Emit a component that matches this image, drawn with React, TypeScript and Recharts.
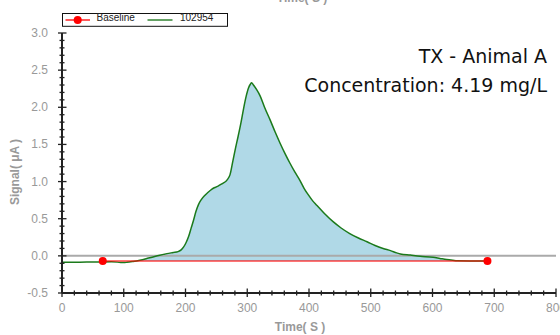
import React from 'react';
import { ComposedChart, Area, Line, XAxis, YAxis, ReferenceLine, Legend, Label } from 'recharts';

// ---- data ----
const times = [0, 20, 40, 60, 80, 95, 100, 105, 115, 126, 140, 153, 170, 180, 188, 193, 197, 201, 205, 209, 213, 217, 221, 225, 232, 240, 245, 252, 261, 265, 268, 272, 277, 281, 285, 290, 294, 298, 302, 305, 307, 310, 315, 321, 328, 337, 345, 353, 361, 369, 377, 385, 392, 399, 406, 412, 425, 439, 452, 466, 480, 494, 507, 520, 532, 542, 548, 564, 580, 601, 612, 623, 633, 640, 660, 690];
const signal = [-0.085, -0.085, -0.084, -0.083, -0.08, -0.088, -0.09, -0.087, -0.075, -0.058, -0.03, -0.003, 0.03, 0.045, 0.057, 0.08, 0.12, 0.18, 0.26, 0.37, 0.48, 0.6, 0.69, 0.75, 0.82, 0.88, 0.91, 0.935, 0.98, 1.0, 1.03, 1.09, 1.29, 1.45, 1.6, 1.8, 1.98, 2.14, 2.26, 2.31, 2.33, 2.3, 2.24, 2.15, 2.0, 1.83, 1.67, 1.52, 1.38, 1.25, 1.13, 1.02, 0.91, 0.82, 0.74, 0.685, 0.57, 0.46, 0.375, 0.3, 0.24, 0.19, 0.14, 0.1, 0.07, 0.04, 0.025, 0.01, -0.005, -0.02, -0.035, -0.05, -0.06, -0.066, -0.068, -0.068];
const baselineTimes = [66, 689];
const baselineValues = [-0.068, -0.068];
const seriesNames = ['Baseline', '102954'];
const xMajorTicks = [0, 100, 200, 300, 400, 500, 600, 700, 800];
const yMajorTicks = [-0.5, 0.0, 0.5, 1.0, 1.5, 2.0, 2.5, 3.0];
const annotationLines = ['TX - Animal A', 'Concentration: 4.19 mg/L'];
const xTitle = 'Time( S )';
const yTitle = 'Signal( μA )';

const signalData = times.map((t, i) => ({ t, v: signal[i] }));
const baselineData = baselineTimes.map((t, i) => ({ t, b: baselineValues[i] }));
const BASE = baselineValues[0];

// minor ticks (every 20 s, every 0.1 µA)
const xTicks: number[] = [];
for (let i = 0; i <= 40; i++) xTicks.push(i * 20);
const yTicks: number[] = [];
for (let i = -5; i <= 30; i++) yTicks.push(Math.round(i) / 10);

const isMajorX = (v: number) => xMajorTicks.some((m) => Math.abs(m - v) < 1e-6);
const isMajorY = (v: number) => yMajorTicks.some((m) => Math.abs(m - v) < 1e-6);

const AXIS = '#222';
const LABEL = '#999';
const FONT = '"Liberation Sans", Arial, sans-serif';

const BottomTick = (props: any) => {
  const { x, y, payload } = props;
  const major = isMajorX(payload.value);
  return (
    <g>
      <line x1={x} x2={x} y1={y - (major ? 4.5 : 2.5)} y2={y + (major ? 4 : 2.5)} stroke={AXIS} strokeWidth={1.3} />
      {major && (
        <text x={x} y={y + 19} textAnchor="middle" fill={LABEL} fontSize={12} fontFamily={FONT}>
          {payload.value}
        </text>
      )}
    </g>
  );
};

const TopTick = (props: any) => {
  const { x, y, payload } = props;
  const major = isMajorX(payload.value);
  return <line x1={x} x2={x} y1={y} y2={y + (major ? 4 : 2.5)} stroke={AXIS} strokeWidth={1.3} />;
};

const LeftTick = (props: any) => {
  const { x, y, payload } = props;
  const major = isMajorY(payload.value);
  return (
    <g>
      <line x1={x - (major ? 4 : 2.5)} x2={x + (major ? 4.5 : 2.5)} y1={y} y2={y} stroke={AXIS} strokeWidth={1.3} />
      {major && (
        <text x={x - 14} y={y + 4} textAnchor="end" fill={LABEL} fontSize={12} fontFamily={FONT}>
          {Number(payload.value).toFixed(1)}
        </text>
      )}
    </g>
  );
};

const RightTick = (props: any) => {
  const { x, y, payload } = props;
  const major = isMajorY(payload.value);
  return <line x1={x - (major ? 5 : 2.5)} x2={x} y1={y} y2={y} stroke={AXIS} strokeWidth={1.3} />;
};

const LegendBox = () => (
  <svg width={168} height={15} style={{ display: 'block', overflow: 'visible' }}>
    <rect x={0.5} y={0.5} width={165} height={12.8} fill="#fff" stroke="#111" strokeWidth={1} />
    <line x1={3.5} x2={28} y1={7} y2={7} stroke="#ff0000" strokeWidth={1.3} />
    <circle cx={15.7} cy={7} r={4} fill="#ff0000" />
    <text x={34.5} y={7.8} fontSize={10} fontFamily={FONT} fill="#222">{seriesNames[0]}</text>
    <line x1={85.5} x2={110.5} y1={7} y2={7} stroke="#127012" strokeWidth={1.3} />
    <text x={118} y={7.8} fontSize={10} fontFamily={FONT} fill="#222">{seriesNames[1]}</text>
  </svg>
);

export default function App() {
  return (
    <div style={{ position: 'absolute', left: 0, top: 0, width: 560, height: 335, background: '#fff', overflow: 'hidden' }}>
      <ComposedChart width={560} height={335} margin={{ top: 33, right: 4, bottom: 0, left: 0 }}>
        <XAxis
          dataKey="t"
          type="number"
          domain={[0, 800]}
          ticks={xTicks}
          interval={0}
          tickSize={0}
          tickMargin={0}
          tickLine={false}
          tick={<BottomTick />}
          axisLine={{ stroke: AXIS, strokeWidth: 2 }}
          height={42}
          allowDataOverflow
        >
          <Label
            content={() => (
              <g>
                <text x={300} y={331} textAnchor="middle" fill={LABEL} fontSize={12} fontWeight="bold" fontFamily={FONT}>
                  {xTitle}
                </text>
                <text x={302} y={2.2} textAnchor="middle" fill={LABEL} fontSize={12} fontWeight="bold" fontFamily={FONT}>
                  {xTitle}
                </text>
              </g>
            )}
          />
        </XAxis>
        <XAxis
          xAxisId="top"
          orientation="top"
          dataKey="t"
          type="number"
          domain={[0, 800]}
          ticks={xTicks}
          interval={0}
          tickSize={0}
          tickMargin={0}
          tickLine={false}
          tick={<TopTick />}
          axisLine={{ stroke: AXIS, strokeWidth: 2 }}
          height={0}
          allowDataOverflow
        />
        <YAxis
          type="number"
          domain={[-0.5, 3.0]}
          ticks={yTicks}
          interval={0}
          tickSize={0}
          tickMargin={0}
          tickLine={false}
          tick={<LeftTick />}
          axisLine={{ stroke: AXIS, strokeWidth: 2 }}
          width={62}
          allowDataOverflow
        >
          <Label
            content={() => (
              <text
                x={19}
                y={172}
                transform="rotate(-90 19 172)"
                textAnchor="middle"
                fill={LABEL}
                fontSize={12}
                fontWeight="bold"
                fontFamily={FONT}
              >
                {yTitle}
              </text>
            )}
          />
        </YAxis>
        <YAxis
          yAxisId="right"
          orientation="right"
          type="number"
          domain={[-0.5, 3.0]}
          ticks={yTicks}
          interval={0}
          tickSize={0}
          tickMargin={0}
          tickLine={false}
          tick={<RightTick />}
          axisLine={{ stroke: AXIS, strokeWidth: 2 }}
          width={0}
          allowDataOverflow
        />
        <Area
          data={signalData}
          dataKey={(d: any) => Math.max(d.v, BASE)}
          type="monotone"
          baseValue={BASE}
          stroke="none"
          fill="#b0d9e7"
          fillOpacity={1}
          isAnimationActive={false}
          legendType="none"
        />
        <ReferenceLine y={0} stroke="#aaaaaa" strokeWidth={2} />
        <Line
          data={signalData}
          dataKey="v"
          name={seriesNames[1]}
          type="monotone"
          stroke="#1b7a1b"
          strokeWidth={1.5}
          dot={false}
          isAnimationActive={false}
        />
        <Line
          data={baselineData}
          dataKey="b"
          name={seriesNames[0]}
          type="linear"
          stroke="#ff0000"
          strokeOpacity={0.55}
          strokeWidth={2}
          dot={{ r: 4, fill: '#ff0000', stroke: 'none', strokeOpacity: 0 }}
          isAnimationActive={false}
        />
        <Legend
          layout="horizontal"
          align="center"
          verticalAlign="middle"
          wrapperStyle={{ position: 'absolute', left: 62, top: 13, width: 168, height: 15 }}
          content={() => <LegendBox />}
        />
      </ComposedChart>
      <div
        style={{
          position: 'absolute',
          right: 13,
          top: 42.2,
          textAlign: 'right',
          fontFamily: '"DejaVu Sans", sans-serif',
          fontSize: 19,
          lineHeight: '29px',
          color: '#111',
          whiteSpace: 'nowrap',
        }}
      >
        {annotationLines.map((l) => (
          <div key={l}>{l}</div>
        ))}
      </div>
    </div>
  );
}
